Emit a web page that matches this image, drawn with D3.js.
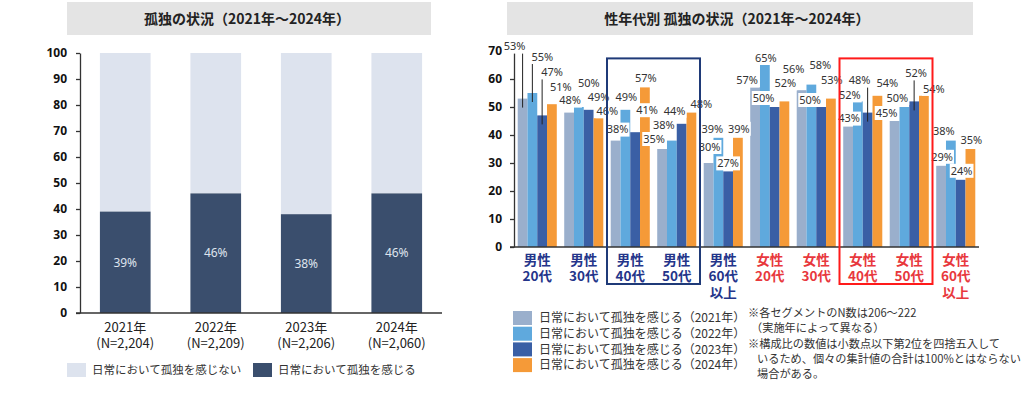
<!DOCTYPE html>
<html>
<head>
<meta charset="utf-8">
<script src="https://cdn.jsdelivr.net/npm/d3@7"></script>
<style>
  body { margin: 0; background: #fff; }
  svg { font-family: "Noto Sans CJK JP", "Noto Sans", sans-serif; }
</style>
</head>
<body>
<div id="chart"></div>
<script>
// ---- left chart data
const leftYears = ["2021年", "2022年", "2023年", "2024年"];
const leftN = ["(N=2,204)", "(N=2,209)", "(N=2,206)", "(N=2,060)"];
const feelLonely = [39, 46, 38, 46];
const leftLegend = ["日常において孤独を感じない", "日常において孤独を感じる"];
const leftTicks = d3.range(0, 101, 10);

// ---- right chart data
const segLines = [["男性", "20代"], ["男性", "30代"], ["男性", "40代"], ["男性", "50代"], ["男性", "60代", "以上"],
                  ["女性", "20代"], ["女性", "30代"], ["女性", "40代"], ["女性", "50代"], ["女性", "60代", "以上"]];
const segSex = ["m", "m", "m", "m", "m", "f", "f", "f", "f", "f"];
const years = ["2021", "2022", "2023", "2024"];
const v2021 = [53, 48, 38, 35, 30, 57, 56, 43, 45, 29];
const v2022 = [55, 50, 49, 38, 39, 65, 58, 52, 50, 38];
const v2023 = [47, 49, 41, 44, 27, 50, 50, 48, 52, 24];
const v2024 = [51, 46, 57, 48, 39, 52, 53, 54, 54, 35];
const rightTicks = d3.range(0, 71, 10);
const legendNames = years.map(y => `日常において孤独を感じる（${y}年）`);
const notes = ["※各セグメントのN数は206～222", "（実施年によって異なる）",
               "※構成比の数値は小数点以下第2位を四捨五入して",
               "いるため、個々の集計値の合計は100%とはならない", "場合がある。"];

// label nudges (px) from the top-centre of each bar, per series
const labelNudge = [
  [[-8,-52],[1,-12],[2,-11],[-8,-10],[1,-16],[-8,-7],[-8,-21],[1,-8],[-8,-8],[1,-9]],
  [[10,-36],[10,-24],[1,-13],[-8,-15],[-6,-9],[1,-7],[9,-19],[-8,-6],[-7,-9],[-7,-9]],
  [[10,-43],[10,-13],[12,-22],[-7,-13],[0,-8],[-11,-9],[-11,-7],[-8,-32],[2,-28],[1,-9]],
  [[9,-17],[9,-7],[1,-9],[10,-8],[1,-9],[1,-18],[1,-18],[10,-13],[10,-7],[1,-9]]
];
const leaders = [[0, 0], [1, 0], [2, 0], [2, 7], [2, 8]]; // [series, segment]
const boxes = [{from: 2, to: 3, color: "#1f3a78"}, {from: 7, to: 8, color: "#ff1a1a"}];

const colors = ["#9aafcc", "#5fa9dd", "#3a5fa5", "#f59a38"];
const seriesVals = [v2021, v2022, v2023, v2024];

const svg = d3.select("#chart").append("svg")
  .attr("width", 1024).attr("height", 393);

// ======================= LEFT CHART
svg.append("rect").attr("x", 67).attr("y", 2).attr("width", 364).attr("height", 33).attr("fill", "#e4e4e4");
svg.append("text").attr("x", 247).attr("y", 19).attr("dy", "0.35em")
  .attr("text-anchor", "middle").style("font-size", "14px").style("font-weight", "bold")
  .attr("fill", "#222").text("孤独の状況（2021年～2024年）");

const xL = d3.scaleBand().domain(leftYears).range([80, 442]).paddingInner(0.44).paddingOuter(0.22);
const yL = d3.scaleLinear().domain([0, 100]).range([313, 53]);

const lg = svg.append("g");
lg.selectAll(".top").data(feelLonely).join("rect")
  .attr("x", (d, i) => xL(leftYears[i])).attr("width", xL.bandwidth())
  .attr("y", yL(100)).attr("height", d => yL(d) - yL(100))
  .attr("fill", "#dde3ee");
lg.selectAll(".bot").data(feelLonely).join("rect")
  .attr("x", (d, i) => xL(leftYears[i])).attr("width", xL.bandwidth())
  .attr("y", d => yL(d)).attr("height", d => yL(0) - yL(d))
  .attr("fill", "#3a4e6d");
lg.selectAll(".lab").data(feelLonely).join("text")
  .attr("x", (d, i) => xL(leftYears[i]) + xL.bandwidth() / 2)
  .attr("y", d => yL(d / 2)).attr("dy", "0.35em")
  .attr("text-anchor", "middle").attr("fill", "#dfe4ee")
  .style("font-size", "12px").style("font-family", "'Noto Sans', sans-serif")
  .text(d => d + "%");

const axL = svg.append("g").attr("transform", "translate(80,0)")
  .call(d3.axisLeft(yL).tickValues(leftTicks).tickSize(4).tickSizeOuter(0).tickPadding(9));
axL.selectAll("path, line").attr("stroke", "#333").attr("stroke-width", 1.3);
axL.selectAll("text").attr("fill", "#111").style("font-size", "12px").style("font-weight", "bold")
  .style("font-family", "'Noto Sans', sans-serif");
svg.append("line").attr("x1", 76).attr("x2", 442).attr("y1", yL(0)).attr("y2", yL(0))
  .attr("stroke", "#333").attr("stroke-width", 1.3);

leftYears.forEach((yr, i) => {
  const cx = xL(yr) + xL.bandwidth() / 2;
  const t = svg.append("text").attr("x", cx).attr("y", 327).attr("text-anchor", "middle")
    .style("font-size", "13px").attr("fill", "#222");
  t.append("tspan").attr("x", cx).attr("dy", "0.35em").text(yr);
  t.append("tspan").attr("x", cx).attr("dy", 16).text(leftN[i]);
});

// left legend
[["#dde3ee", 67], ["#3a4e6d", 253]].forEach(([c, x], i) => {
  svg.append("rect").attr("x", x).attr("y", 363).attr("width", 19).attr("height", 14).attr("fill", c);
  svg.append("text").attr("x", x + 25).attr("y", 370).attr("dy", "0.35em")
    .style("font-size", "11.5px").attr("fill", "#333").text(leftLegend[i]);
});

// ======================= RIGHT CHART
svg.append("rect").attr("x", 507).attr("y", 2).attr("width", 466).attr("height", 33).attr("fill", "#e4e4e4");
svg.append("text").attr("x", 737).attr("y", 19).attr("dy", "0.35em")
  .attr("text-anchor", "middle").style("font-size", "14px").style("font-weight", "bold")
  .attr("fill", "#222").text("性年代別 孤独の状況（2021年～2024年）");

const x0 = d3.scaleBand().domain(d3.range(segLines.length)).range([514, 979]).paddingInner(0.16).paddingOuter(0.08);
const x1 = d3.scaleBand().domain(years).range([0, x0.bandwidth()]);
const yR = d3.scaleLinear().domain([0, 70]).range([247, 51]);

const rg = svg.append("g");
years.forEach((yr, s) => {
  rg.selectAll(".b" + yr).data(seriesVals[s]).join("rect")
    .attr("x", (d, i) => x0(i) + x1(yr)).attr("width", x1.bandwidth())
    .attr("y", d => yR(d)).attr("height", d => yR(0) - yR(d))
    .attr("fill", colors[s]);
});

const axR = svg.append("g").attr("transform", "translate(514,0)")
  .call(d3.axisLeft(yR).tickValues(rightTicks).tickSize(4).tickSizeOuter(0).tickPadding(8));
axR.selectAll("path, line").attr("stroke", "#333").attr("stroke-width", 1.3);
axR.selectAll("text").attr("fill", "#111").style("font-size", "12px").style("font-weight", "bold")
  .style("font-family", "'Noto Sans', sans-serif");
svg.append("line").attr("x1", 510).attr("x2", 979).attr("y1", yR(0)).attr("y2", yR(0))
  .attr("stroke", "#333").attr("stroke-width", 1.3);

// leader lines
const barCx = (s, i) => x0(i) + x1(years[s]) + x1.bandwidth() / 2;
leaders.forEach(([s, i]) => {
  const v = seriesVals[s][i];
  svg.append("line")
    .attr("x1", barCx(s, i)).attr("x2", barCx(s, i))
    .attr("y1", yR(v) + labelNudge[s][i][1] + 6).attr("y2", yR(v) + 9)
    .attr("stroke", "#222").attr("stroke-width", 1);
});

// data labels with white backing
years.forEach((yr, s) => {
  seriesVals[s].forEach((v, i) => {
    const cx = barCx(s, i) + labelNudge[s][i][0];
    const cy = yR(v) + labelNudge[s][i][1];
    const g = svg.append("g");
    const t = g.append("text").attr("x", cx).attr("y", cy).attr("dy", "0.35em")
      .attr("text-anchor", "middle").attr("fill", "#333")
      .style("font-size", "11px").style("font-family", "'Noto Sans', sans-serif")
      .text(v + "%");
    const bb = t.node().getBBox();
    g.insert("rect", "text").attr("x", bb.x - 1).attr("y", cy - 7).attr("width", bb.width + 2)
      .attr("height", 14).attr("fill", "#fff");
  });
});

// highlight boxes
const half = x0.step() * x0.paddingInner() / 2;
boxes.forEach(b => {
  svg.append("rect")
    .attr("x", x0(b.from) - half).attr("y", yR(67) - 1)
    .attr("width", x0(b.to) + x0.bandwidth() + half - (x0(b.from) - half))
    .attr("height", 284 - (yR(67) - 1))
    .attr("fill", "none").attr("stroke", b.color).attr("stroke-width", 2);
});

// category labels (one text per category, lines as tspans)
segLines.forEach((lines, i) => {
  const cx = x0(i) + x0.bandwidth() / 2;
  const t = svg.append("text").attr("x", cx).attr("y", 260).attr("text-anchor", "middle")
    .style("font-size", "13.5px").style("font-weight", "bold")
    .attr("fill", segSex[i] === "m" ? "#24358a" : "#e8383d");
  lines.forEach((ln, k) => {
    t.append("tspan").attr("x", cx).attr("dy", k === 0 ? "0.35em" : 16.5).text(ln);
  });
});

// right legend
legendNames.forEach((name, s) => {
  const cy = 318 + s * 15.7;
  svg.append("rect").attr("x", 513).attr("y", cy - 7).attr("width", 19).attr("height", 14).attr("fill", colors[s]);
  svg.append("text").attr("x", 539).attr("y", cy).attr("dy", "0.35em")
    .style("font-size", "12px").attr("fill", "#333").text(name);
});

// notes
notes.forEach((n, k) => {
  const indent = n.startsWith("※") ? 748 : (n.startsWith("（") ? 751 : 757);
  svg.append("text").attr("x", indent).attr("y", 313 + k * 15.3).attr("dy", "0.35em")
    .style("font-size", "11.2px").attr("fill", "#333").text(n);
});
</script>
</body>
</html>
